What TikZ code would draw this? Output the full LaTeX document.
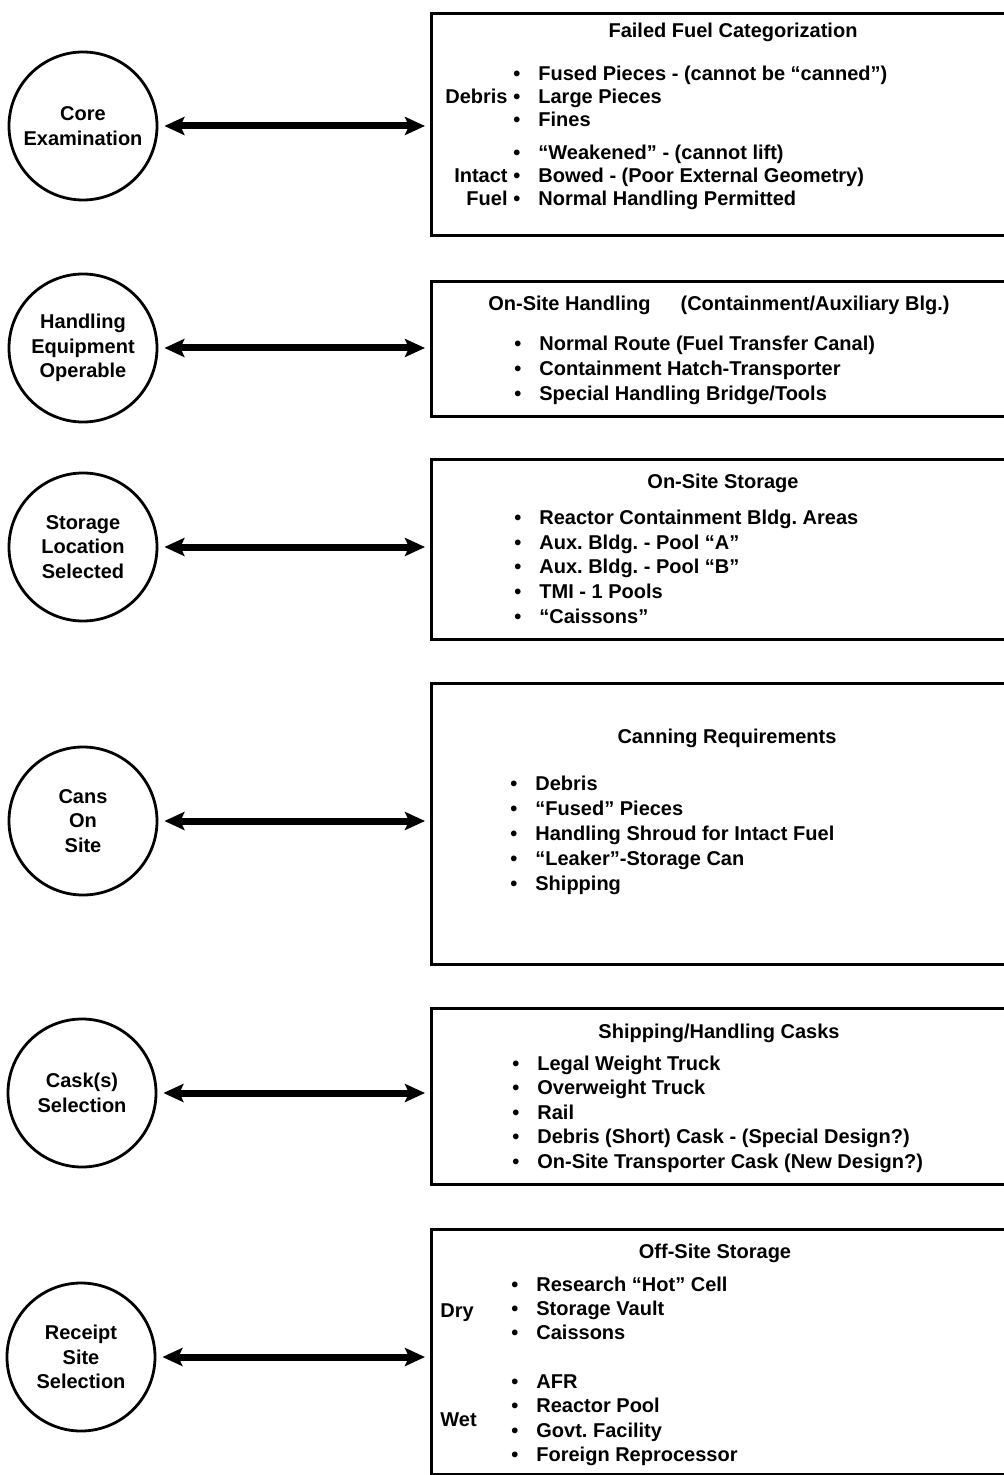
\documentclass[tikz,border=0pt]{standalone}
\usepackage{fontspec}
\setmainfont{Liberation Sans}
\usetikzlibrary{arrows.meta}
\frenchspacing
\begin{document}
\begin{tikzpicture}[x=0.5pt,y=-0.5pt,
  every node/.style={font=\fontsize{10pt}{12.25pt}\selectfont\bfseries, inner sep=0pt},
  circ/.style={draw, circle, line width=1.4pt, minimum size=74pt, align=center},
  panel/.style={draw, rectangle, line width=1.5pt, anchor=north west, minimum width=289pt},
  ttl/.style={anchor=center, text height=7.2pt, text depth=2pt},
  itm/.style={anchor=west, text height=7.2pt, text depth=2pt},
  lbl/.style={anchor=east, text height=7.2pt, text depth=2pt},
  side/.style={anchor=west, text height=7.2pt, text depth=2pt},
  conn/.style={line width=3.5pt,
    {Stealth[length=10pt,width=9pt,inset=2pt]}-{Stealth[length=10pt,width=9pt,inset=2pt]},
    shorten <=3pt, shorten >=2.5pt}
]
\useasboundingbox (0,0) rectangle (1004,1475);
\clip (0,0) rectangle (1004,1475);

% ---------- circles ----------
\node[circ] (c1) at (83,126)  {Core\\Examination};
\node[circ] (c2) at (83,348)  {Handling\\Equipment\\Operable};
\node[circ] (c3) at (83,547)  {Storage\\Location\\Selected};
\node[circ] (c4) at (83,821)  {Cans\\On\\Site};
\node[circ] (c5) at (82,1093) {Cask(s)\\Selection};
\node[circ] (c6) at (81,1357) {Receipt\\Site\\Selection};

% ---------- boxes ----------
\node[panel, minimum height=111pt]   (b1) at (430,12)   {};
\node[panel, minimum height=67.5pt]  (b2) at (430,280)  {};
\node[panel, minimum height=90pt]    (b3) at (430,458)  {};
\node[panel, minimum height=140.5pt] (b4) at (430,682)  {};
\node[panel, minimum height=88pt]    (b5) at (430,1007) {};
\node[panel, minimum height=122.5pt] (b6) at (430,1228) {};

% ---------- connectors ----------
\draw[conn] (c1) -- (c1 -| b1.west);
\draw[conn] (c2) -- (c2 -| b2.west);
\draw[conn] (c3) -- (c3 -| b3.west);
\draw[conn] (c4) -- (c4 -| b4.west);
\draw[conn] (c5) -- (c5 -| b5.west);
\draw[conn] (c6) -- (c6 -| b6.west);

% ---------- box 1 ----------
\node[ttl] (b1t) at (733,32) {Failed Fuel Categorization};
\foreach \yy/\tx [count=\i] in {75/{Fused Pieces - (cannot be “canned”)}, 98/{Large Pieces}, 121/{Fines}, 154/{“Weakened” - (cannot lift)}, 177/{Bowed - (Poor External Geometry)}, 200/{Normal Handling Permitted}}
  \node[itm] (b1i\i) at (513,\yy) {\makebox[12.5pt][l]{\textbullet}\tx};
\node[lbl] (debris) at (508,98) {Debris};
\node[lbl] (intact) at (508,177) {Intact};
\node[lbl] (fuel) at (508,200) {Fuel};

% ---------- box 2 ----------
\node[side] (b2t) at (488,305) {On-Site Handling\hspace{15pt}(Containment/Auxiliary Blg.)};
\foreach \yy/\tx [count=\i] in {345/{Normal Route (Fuel Transfer Canal)}, 370/{Containment Hatch-Transporter}, 395/{Special Handling Bridge/Tools}}
  \node[itm] (b2i\i) at (514,\yy) {\makebox[12.5pt][l]{\textbullet}\tx};

% ---------- box 3 ----------
\node[ttl] (b3t) at (723,483) {On-Site Storage};
\foreach \yy/\tx [count=\i] in {519/{Reactor Containment Bldg. Areas}, 544/{Aux. Bldg. - Pool “A”}, 568/{Aux. Bldg. - Pool “B”}, 593/{TMI - 1 Pools}, 618/{“Caissons”}}
  \node[itm] (b3i\i) at (514,\yy) {\makebox[12.5pt][l]{\textbullet}\tx};

% ---------- box 4 ----------
\node[ttl] (b4t) at (727,738) {Canning Requirements};
\foreach \yy/\tx [count=\i] in {785/{Debris}, 810/{“Fused” Pieces}, 835/{Handling Shroud for Intact Fuel}, 860/{“Leaker”-Storage Can}, 885/{Shipping}}
  \node[itm] (b4i\i) at (510,\yy) {\makebox[12.5pt][l]{\textbullet}\tx};

% ---------- box 5 ----------
\node[ttl] (b5t) at (719,1033) {Shipping/Handling Casks};
\foreach \yy/\tx [count=\i] in {1065/{Legal Weight Truck}, 1089/{Overweight Truck}, 1114/{Rail}, 1138/{Debris (Short) Cask - (Special Design?)}, 1163/{On-Site Transporter Cask (New Design?)}}
  \node[itm] (b5i\i) at (512,\yy) {\makebox[12.5pt][l]{\textbullet}\tx};

% ---------- box 6 ----------
\node[ttl] (b6t) at (715,1253) {Off-Site Storage};
\foreach \yy/\tx [count=\i] in {1286/{Research “Hot” Cell}, 1310/{Storage Vault}, 1334/{Caissons}, 1383/{AFR}, 1407/{Reactor Pool}, 1432/{Govt. Facility}, 1456/{Foreign Reprocessor}}
  \node[itm] (b6i\i) at (511,\yy) {\makebox[12.5pt][l]{\textbullet}\tx};
\node[side] (dry) at (440,1312) {Dry};
\node[side] (wet) at (440,1421) {Wet};
\end{tikzpicture}
\end{document}
